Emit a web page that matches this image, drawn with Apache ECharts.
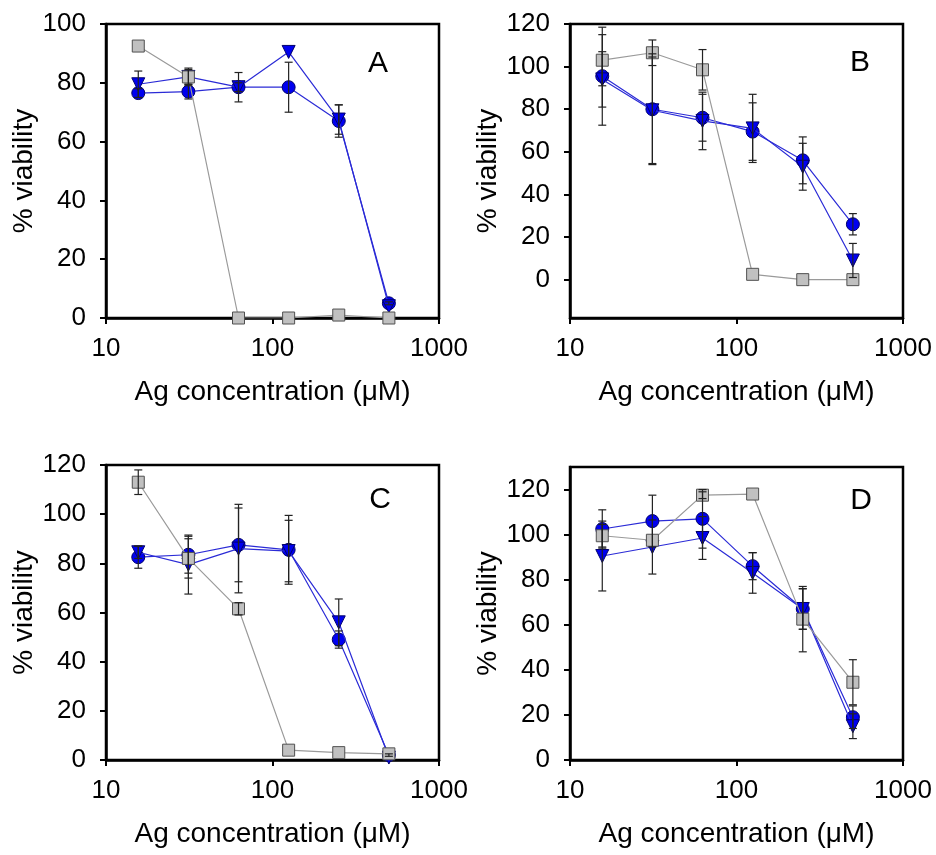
<!DOCTYPE html>
<html>
<head>
<meta charset="utf-8">
<script src="https://cdn.jsdelivr.net/npm/echarts@6/dist/echarts.min.js"></script>
<style>
html, body { margin: 0; padding: 0; background: #fff; }
#chart { width: 936px; height: 855px; }
</style>
</head>
<body>
<div id="chart"></div>
<script>
// concentrations (uM), same for every panel
var conc = [15.625, 31.25, 62.5, 125, 250, 500];
var xTicks = [10, 100, 1000];
var yTicksA = [0, 20, 40, 60, 80, 100];
var yTicksBCD = [0, 20, 40, 60, 80, 100, 120];

// Panel A
var aSquare = [92.5, 82, 0, 0, 1, 0];
var aSquareErr = [0, 2.5, 0, 0, 0, 0];
var aCircle = [76.5, 77, 78.5, 78.5, 67, 5];
var aCircleErr = [1.5, 2.5, 1.5, 8.5, 5.5, 0.5];
var aTriangle = [79.5, 82, 78.5, 90.5, 67.5, 4];
var aTriangleErr = [4.5, 3, 5, 0, 5, 0];

// Panel B
var bSquare = [103, 106.5, 98.5, 2.5, 0, 0];
var bSquareErr = [12, 6, 9.5, 0, 0, 0];
var bCircle = [95.5, 80, 76, 69.5, 56, 26];
var bCircleErr = [23, 26, 11, 13.5, 11, 5];
var bTriangle = [94, 79.5, 74.5, 71, 53, 9];
var bTriangleErr = [13, 25, 13.5, 16, 11, 8];

// Panel C
var cSquare = [113, 82, 61.5, 4, 3, 2.5];
var cSquareErr = [5, 8, 2.5, 0, 0, 0];
var cCircle = [82.5, 83.5, 87.5, 85.5, 49, 2];
var cCircleErr = [4.5, 7.5, 15, 14, 3.5, 0.5];
var cTriangle = [84.5, 79.5, 86, 85, 56, 1];
var cTriangleErr = [2.5, 12, 18, 12.5, 9.5, 0];

// Panel D
var dSquare = [99.5, 97.5, 117.5, 118, 62.5, 34.5];
var dSquareErr = [5, 0, 1.5, 0, 14.5, 10];
var dCircle = [102.5, 106, 107, 86, 67, 19];
var dCircleErr = [8.5, 11.5, 13, 6, 9, 5];
var dTriangle = [90.5, 94.5, 98.5, 83, 67, 15];
var dTriangleErr = [15.5, 12, 9.5, 9, 9, 5.5];

var panels = [
    { letter: 'A', sq: aSquare, sqE: aSquareErr, ci: aCircle, ciE: aCircleErr, tr: aTriangle, trE: aTriangleErr,
      min: 0, max: 100, ticks: yTicksA, grid: { left: 106, top: 24, width: 333, height: 294 }, lx: 378, ly: 64 },
    { letter: 'B', sq: bSquare, sqE: bSquareErr, ci: bCircle, ciE: bCircleErr, tr: bTriangle, trE: bTriangleErr,
      min: -18, max: 120, ticks: yTicksBCD, grid: { left: 570, top: 24, width: 333, height: 294 }, lx: 860, ly: 63 },
    { letter: 'C', sq: cSquare, sqE: cSquareErr, ci: cCircle, ciE: cCircleErr, tr: cTriangle, trE: cTriangleErr,
      min: 0, max: 120, ticks: yTicksBCD, grid: { left: 106, top: 465, width: 333, height: 295 }, lx: 380, ly: 500 },
    { letter: 'D', sq: dSquare, sqE: dSquareErr, ci: dCircle, ciE: dCircleErr, tr: dTriangle, trE: dTriangleErr,
      min: 0, max: 130, ticks: yTicksBCD, grid: { left: 570, top: 467, width: 333, height: 293 }, lx: 861, ly: 501 }
];

var font = 'Liberation Sans, Arial, sans-serif';

function pairs(ys) {
    return conc.map(function (x, i) { return [x, ys[i]]; });
}

function errData(ys, es) {
    var out = [];
    conc.forEach(function (x, i) {
        if (es[i] > 0) out.push([x, ys[i] - es[i], ys[i] + es[i]]);
    });
    return out;
}

function renderErr(params, api) {
    var lo = api.coord([api.value(0), api.value(1)]);
    var hi = api.coord([api.value(0), api.value(2)]);
    var cap = 4;
    var style = { stroke: '#222', lineWidth: 1.2 };
    return {
        type: 'group',
        children: [
            { type: 'line', shape: { x1: lo[0], y1: lo[1], x2: hi[0], y2: hi[1] }, style: style },
            { type: 'line', shape: { x1: lo[0] - cap, y1: lo[1], x2: lo[0] + cap, y2: lo[1] }, style: style },
            { type: 'line', shape: { x1: hi[0] - cap, y1: hi[1], x2: hi[0] + cap, y2: hi[1] }, style: style }
        ]
    };
}

var grids = [], xAxes = [], yAxes = [], series = [], graphics = [];

panels.forEach(function (p, k) {
    grids.push({
        left: p.grid.left, top: p.grid.top, width: p.grid.width, height: p.grid.height,
        show: true, borderColor: '#000', borderWidth: 2.5, backgroundColor: 'transparent'
    });
    xAxes.push({
        gridIndex: k, type: 'log', logBase: 10, min: 10, max: 1000,
        name: 'Ag concentration (\u03bcM)', nameLocation: 'middle', nameGap: 60,
        nameTextStyle: { fontSize: 28, color: '#000', fontFamily: font },
        axisLine: { show: true, onZero: false, lineStyle: { color: '#000', width: 2.5 } },
        axisTick: { show: true, inside: false, length: 6, lineStyle: { color: '#000', width: 2 } },
        minorTick: { show: false },
        axisLabel: {
            margin: 18, fontSize: 26, color: '#000', fontFamily: font,
            formatter: function (v) { return String(Math.round(v)); }
        },
        splitLine: { show: false }
    });
    yAxes.push({
        gridIndex: k, type: 'value', min: p.min, max: p.max,
        name: '% viability', nameLocation: 'middle', nameGap: 67,
        nameTextStyle: { fontSize: 28, color: '#000', fontFamily: font },
        axisLine: { show: true, lineStyle: { color: '#000', width: 2.5 } },
        axisTick: { show: true, inside: false, length: 6, lineStyle: { color: '#000', width: 2 }, customValues: p.ticks },
        axisLabel: { margin: 20, fontSize: 26, color: '#000', fontFamily: font, customValues: p.ticks },
        splitLine: { show: false }
    });

    series.push({
        type: 'line', xAxisIndex: k, yAxisIndex: k, data: pairs(p.ci), z: 3,
        symbol: 'circle', symbolSize: 13,
        lineStyle: { color: '#2b2bd6', width: 1.2 },
        itemStyle: { color: '#0000f0', borderColor: '#00006a', borderWidth: 1 }
    });
    series.push({
        type: 'line', xAxisIndex: k, yAxisIndex: k, data: pairs(p.tr), z: 4,
        symbol: 'triangle', symbolRotate: 180, symbolSize: 13,
        lineStyle: { color: '#2b2bd6', width: 1.2 },
        itemStyle: { color: '#0000f0', borderColor: '#00006a', borderWidth: 1 }
    });
    series.push({
        type: 'line', xAxisIndex: k, yAxisIndex: k, data: pairs(p.sq), z: 5,
        symbol: 'rect', symbolSize: 12,
        lineStyle: { color: '#9a9a9a', width: 1.2 },
        itemStyle: { color: '#c0c0c0', borderColor: '#505050', borderWidth: 1 }
    });
    [[p.ci, p.ciE], [p.tr, p.trE], [p.sq, p.sqE]].forEach(function (s) {
        series.push({
            type: 'custom', xAxisIndex: k, yAxisIndex: k, z: 6,
            renderItem: renderErr, data: errData(s[0], s[1]), clip: false
        });
    });

    graphics.push({
        type: 'text', x: p.lx, y: p.ly,
        style: { text: p.letter, fontSize: 30, fontFamily: font, fill: '#000', textAlign: 'center', textVerticalAlign: 'middle' }
    });
});

var myChart = echarts.init(document.getElementById('chart'));
var option = {
    animation: false,
    grid: grids,
    xAxis: xAxes,
    yAxis: yAxes,
    series: series,
    graphic: graphics
};
option && myChart.setOption(option);
</script>
</body>
</html>
